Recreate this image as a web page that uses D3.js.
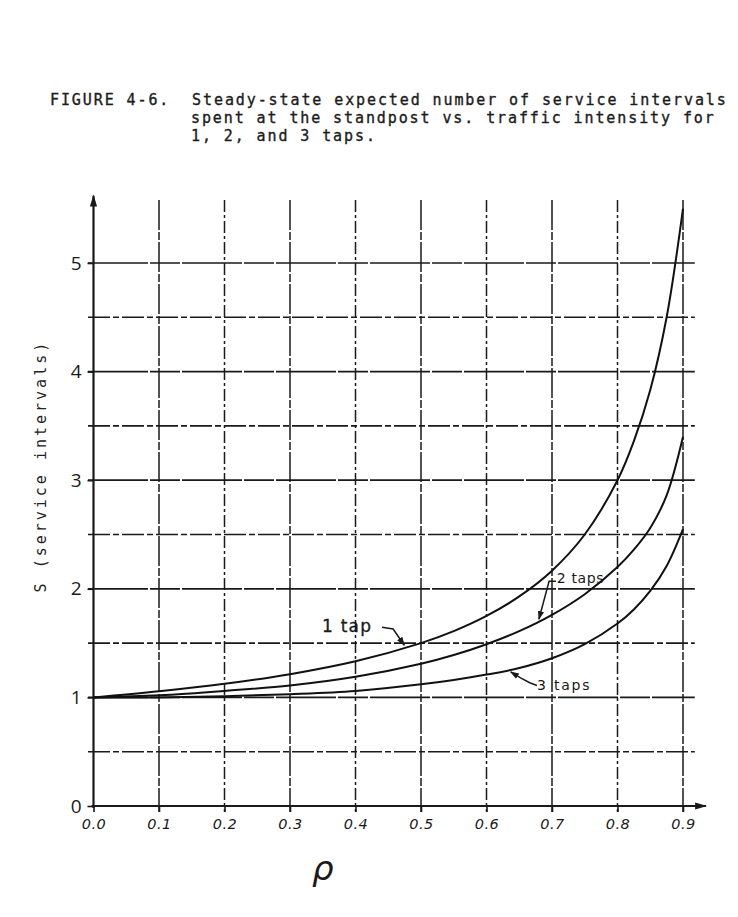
<!DOCTYPE html>
<html>
<head>
<meta charset="utf-8">
<script src="https://cdn.jsdelivr.net/npm/d3@7"></script>
<style>
  html, body { margin: 0; padding: 0; background: #fff; }
  svg { display: block; }
</style>
</head>
<body>
<script>
// ---- Data ----
const rhoValues   = [0.0, 0.1, 0.2, 0.3, 0.4, 0.5, 0.55, 0.6, 0.65, 0.7, 0.75, 0.8, 0.825, 0.85, 0.875, 0.9];
const oneTap      = [1.0, 1.056, 1.125, 1.214, 1.333, 1.5, 1.61, 1.75, 1.93, 2.167, 2.5, 3.0, 3.36, 3.83, 4.5, 5.5];
const twoTaps     = [1.0, 1.02, 1.06, 1.11, 1.19, 1.31, 1.39, 1.49, 1.61, 1.76, 1.95, 2.2, 2.36, 2.56, 2.86, 3.4];
const threeTaps   = [1.0, 1.0, 1.01, 1.03, 1.06, 1.12, 1.16, 1.21, 1.27, 1.36, 1.49, 1.68, 1.81, 1.98, 2.21, 2.55];
const xTicks      = [0.0, 0.1, 0.2, 0.3, 0.4, 0.5, 0.6, 0.7, 0.8, 0.9];
const yTicks      = [0, 1, 2, 3, 4, 5];
const yHalfLines  = [0.5, 1.5, 2.5, 3.5, 4.5];
const titleLines  = [
  "FIGURE 4-6.  Steady-state expected number of service intervals",
  "spent at the standpost vs. traffic intensity for",
  "1, 2, and 3 taps."
];
const yLabel = "S (service intervals)";
const xLabel = "\u03C1";
const seriesLabels = ["1 tap", "2 taps", "3 taps"];

// ---- Layout ----
const W = 738, H = 917;
const svg = d3.select("body").append("svg").attr("width", W).attr("height", H);
svg.append("rect").attr("width", W).attr("height", H).attr("fill", "#fff");

const x = d3.scaleLinear().domain([0, 0.9]).range([93.5, 683]);
const y = d3.scaleLinear().domain([0, 5]).range([806, 263]);

const ink = "#1a1a1a";

// ---- Title ----
const titleFont = "'DejaVu Sans Mono', monospace";
const tStart = [50, 191, 191];
const tY = [105, 123, 141];
titleLines.forEach((t, i) => {
  svg.append("text")
    .attr("x", tStart[i]).attr("y", tY[i])
    .style("white-space", "pre")
    .attr("font-family", titleFont)
    .attr("font-size", 15)
    .attr("letter-spacing", 1.9)
    .attr("fill", "#1c1c1c")
    .attr("stroke", "#1c1c1c").attr("stroke-width", 0.35)
    .text(t);
});

// ---- Grid ----
const grid = svg.append("g");
const xMinLine = 88, xMaxLine = x(0.918);
grid.selectAll(".hh").data(yHalfLines).join("line")
  .attr("x1", xMinLine).attr("x2", xMaxLine)
  .attr("y1", d => y(d)).attr("y2", d => y(d))
  .attr("stroke", ink).attr("stroke-width", 1.6)
  .attr("stroke-dasharray", "22,3,6,3");
grid.selectAll(".hu").data(yTicks.filter(d => d > 0)).join("line")
  .attr("x1", xMinLine).attr("x2", xMaxLine)
  .attr("y1", d => y(d)).attr("y2", d => y(d))
  .attr("stroke", ink).attr("stroke-width", 1.7)
  .attr("stroke-dasharray", "60,2,30,2");
grid.selectAll(".vv").data(xTicks.filter(d => d > 0)).join("line")
  .attr("x1", d => x(d)).attr("x2", d => x(d))
  .attr("y1", y(5.58)).attr("y2", y(0) + 6)
  .attr("stroke", ink).attr("stroke-width", 1.5)
  .attr("stroke-dasharray", d => (Math.round(d * 10) % 2 === 0) ? "12,3,3,3" : "30,2,8,2");

// ---- Axes ----
const xAxis = d3.axisBottom(x).tickValues(xTicks).tickSize(6).tickFormat(d3.format(".1f"));
const gx = svg.append("g").attr("transform", `translate(0,${y(0)})`).call(xAxis);
gx.select(".domain").remove();
gx.selectAll(".tick line").attr("stroke", ink).attr("stroke-width", 1.6);
gx.selectAll(".tick text")
  .attr("y", 13)
  .attr("font-family", "'DejaVu Sans', sans-serif")
  .attr("font-style", "italic")
  .attr("font-size", 14.5)
  .attr("letter-spacing", 0.5)
  .attr("fill", ink);

const yAxis = d3.axisLeft(y).tickValues(yTicks).tickSize(6).tickFormat(d3.format("d"));
const gy = svg.append("g").attr("transform", `translate(${x(0)},0)`).call(yAxis);
gy.select(".domain").remove();
gy.selectAll(".tick line").attr("stroke", ink).attr("stroke-width", 1.6);
gy.selectAll(".tick text")
  .attr("x", -12)
  .attr("font-family", "'Open Sans', sans-serif")
  .attr("font-size", 19)
  .attr("fill", ink);

const defs = svg.append("defs");
defs.append("marker").attr("id", "arr").attr("viewBox", "0 0 10 10")
  .attr("refX", 9).attr("refY", 5).attr("markerWidth", 9).attr("markerHeight", 9)
  .attr("markerUnits", "userSpaceOnUse").attr("orient", "auto")
  .append("path").attr("d", "M0,1.5 L10,5 L0,8.5 Z").attr("fill", ink);
defs.append("marker").attr("id", "arrAxis").attr("viewBox", "0 0 10 10")
  .attr("refX", 9).attr("refY", 5).attr("markerWidth", 16).attr("markerHeight", 12)
  .attr("markerUnits", "userSpaceOnUse").attr("orient", "auto")
  .append("path").attr("d", "M0,2 L10,5 L0,8 Z").attr("fill", ink);

svg.append("line")
  .attr("x1", x(0)).attr("x2", x(0)).attr("y1", y(0) + 2).attr("y2", y(5.62))
  .attr("stroke", ink).attr("stroke-width", 2.2).attr("marker-end", "url(#arrAxis)");
svg.append("line")
  .attr("x1", x(0) - 2).attr("x2", x(0.935)).attr("y1", y(0)).attr("y2", y(0))
  .attr("stroke", ink).attr("stroke-width", 2).attr("marker-end", "url(#arrAxis)");

// ---- Curves ----
const line = d3.line().x(d => x(d[0])).y(d => y(d[1])).curve(d3.curveCatmullRom.alpha(0.5));
[oneTap, twoTaps, threeTaps].forEach(vals => {
  svg.append("path")
    .datum(rhoValues.map((r, i) => [r, vals[i]]))
    .attr("d", line)
    .attr("fill", "none")
    .attr("stroke", "#111")
    .attr("stroke-width", 2);
});

// ---- Axis titles ----
svg.append("text")
  .attr("transform", `translate(46,${y(3.13)}) rotate(-90)`)
  .attr("text-anchor", "middle")
  .attr("font-family", titleFont)
  .attr("font-size", 15)
  .attr("letter-spacing", 3)
  .attr("fill", "#222")
  .text(yLabel);

svg.append("text")
  .attr("x", x(0.35)).attr("y", 880)
  .attr("text-anchor", "middle")
  .attr("font-family", "'DejaVu Sans', sans-serif")
  .attr("font-style", "italic")
  .attr("font-size", 34)
  .attr("fill", ink)
  .text(xLabel);

// ---- Series labels and pointers ----
const lblFont = "'DejaVu Sans', sans-serif";
const ann = svg.append("g").attr("fill", ink);
ann.append("text").attr("x", x(0.349)).attr("y", y(1.6))
  .attr("font-family", lblFont).attr("font-size", 17).attr("letter-spacing", 1.2)
  .attr("stroke", ink).attr("stroke-width", 0.3).text(seriesLabels[0]);
ann.append("text").attr("x", x(0.7074)).attr("y", y(2.05))
  .attr("font-family", lblFont).attr("font-size", 14).attr("letter-spacing", 0.6)
  .text(seriesLabels[1]);
ann.append("text").attr("x", x(0.677)).attr("y", y(1.07))
  .attr("font-family", lblFont).attr("font-size", 14).attr("letter-spacing", 1.8)
  .text(seriesLabels[2]);

const pointer = d3.line().x(d => x(d[0])).y(d => y(d[1]));
const pointers = [
  [[0.4405, 1.645], [0.4575, 1.63], [0.4745, 1.48]],
  [[0.706, 2.07], [0.6955, 2.07], [0.68, 1.72]],
  [[0.677, 1.11], [0.666, 1.135], [0.652, 1.18], [0.637, 1.235]]
];
pointers.forEach(p => {
  svg.append("path").attr("d", pointer(p))
    .attr("fill", "none").attr("stroke", ink).attr("stroke-width", 1.5)
    .attr("marker-end", "url(#arr)");
});
</script>
</body>
</html>
